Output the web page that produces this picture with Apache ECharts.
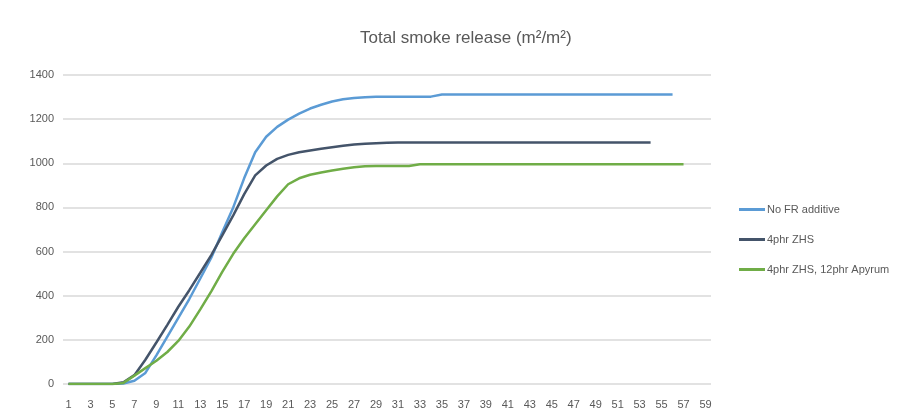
<!DOCTYPE html>
<html>
<head>
<meta charset="utf-8">
<script src="https://cdn.jsdelivr.net/npm/echarts@6/dist/echarts.min.js"></script>
<style>
  html, body { margin: 0; padding: 0; background: #fff; }
  #chart { width: 904px; height: 419px; }
</style>
</head>
<body>
<div id="chart"></div>
<script>
const categories = Array.from({ length: 59 }, (_, i) => String(i + 1))

const noFr = [
  0, 0, 0, 0, 0, 2, 15, 50, 130, 215,
  300, 385, 478, 572, 688, 800, 933, 1050, 1120, 1165,
  1198, 1225, 1248, 1265, 1280, 1290, 1296, 1299, 1301, 1302,
  1302, 1302, 1302, 1302, 1312, 1312, 1312, 1312, 1312, 1312,
  1312, 1312, 1312, 1312, 1312, 1312, 1312, 1312, 1312, 1312,
  1312, 1312, 1312, 1312, 1312, 1312, null, null, null
]

const zhs = [
  0, 0, 0, 0, 0, 8, 40, 110, 188, 268,
  350, 425, 504, 584, 673, 764, 860, 945, 990, 1020,
  1038, 1050, 1058, 1066, 1073, 1079, 1085, 1089, 1091, 1093,
  1094, 1094, 1094, 1094, 1094, 1094, 1094, 1094, 1094, 1094,
  1094, 1094, 1094, 1094, 1094, 1094, 1094, 1094, 1094, 1094,
  1094, 1094, 1094, 1094, null, null, null, null, null
]

const zhsApyrum = [
  0, 0, 0, 0, 0, 5, 38, 72, 105, 145,
  195, 260, 338, 420, 508, 590, 660, 724, 787, 850,
  905, 932, 948, 958, 967, 975, 982, 987, 988, 988,
  988, 988, 996, 996, 996, 996, 996, 996, 996, 996,
  996, 996, 996, 996, 996, 996, 996, 996, 996, 996,
  996, 996, 996, 996, 996, 996, 996, null, null
]

const seriesNames = ['No FR additive', '4phr ZHS', '4phr ZHS, 12phr Apyrum']

const fontFamily = '"Liberation Sans", "Open Sans", sans-serif'
const textColor = '#595959'

const chart = echarts.init(document.getElementById('chart'))

chart.setOption({
  animation: false,
  color: ['#5B9BD5', '#44546A', '#70AD47'],
  title: {
    text: 'Total smoke release (m²/m²)',
    left: 355,
    top: 25,
    textStyle: {
      fontFamily,
      fontSize: 17,
      fontWeight: 'normal',
      color: textColor
    }
  },
  legend: {
    orient: 'vertical',
    left: 734,
    top: 199,
    itemGap: 19,
    itemWidth: 26,
    itemHeight: 3,
    icon: 'rect',
    textStyle: { fontFamily, fontSize: 11, color: textColor, padding: [0, 0, 0, -3] },
    data: seriesNames
  },
  grid: {
    left: 63,
    right: 193,
    top: 75,
    bottom: 35
  },
  xAxis: {
    type: 'category',
    data: categories,
    boundaryGap: true,
    axisLine: { show: false },
    axisTick: { show: false },
    axisLabel: {
      interval: 1,
      margin: 15,
      fontFamily,
      fontSize: 11,
      color: textColor
    }
  },
  yAxis: {
    type: 'value',
    min: 0,
    max: 1400,
    interval: 200,
    axisLine: { show: false },
    axisTick: { show: false },
    axisLabel: {
      margin: 9,
      fontFamily,
      fontSize: 11,
      color: textColor,
      formatter: value => String(value)
    },
    splitLine: {
      lineStyle: { color: '#d9d9d9', width: 1.5 }
    }
  },
  series: [
    { name: seriesNames[0], type: 'line', data: noFr, symbol: 'none', lineStyle: { width: 2.5 } },
    { name: seriesNames[1], type: 'line', data: zhs, symbol: 'none', lineStyle: { width: 2.5 } },
    { name: seriesNames[2], type: 'line', data: zhsApyrum, symbol: 'none', lineStyle: { width: 2.5 } }
  ]
})
</script>
</body>
</html>
